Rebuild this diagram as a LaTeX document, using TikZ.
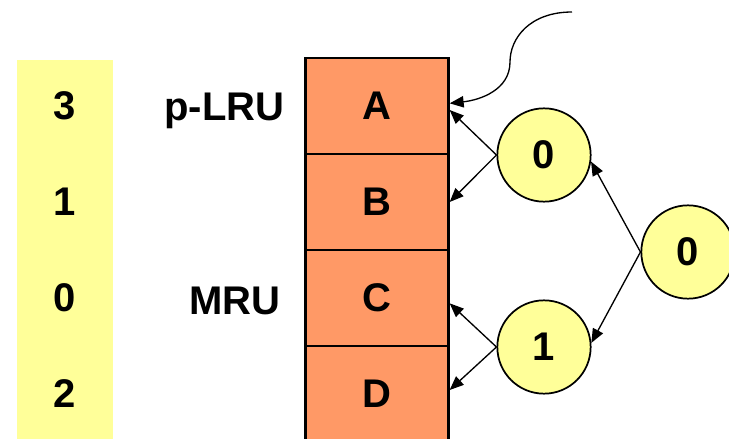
\documentclass[tikz,border=0pt]{standalone}
\usepackage{fontspec}
\setmainfont{Liberation Sans}
\usetikzlibrary{arrows.meta}

\definecolor{slotfill}{HTML}{FF9966}
\definecolor{bitfill}{HTML}{FFFF99}

\begin{document}
\begin{tikzpicture}
  [
    x = 0.75pt, y = -0.75pt,
    every node/.style = {font = \fontsize{30}{34}\selectfont\bfseries},
    slot/.style = {draw, line width = 2pt, fill = slotfill,
        minimum width = 107pt, minimum height = 72pt},
    bit/.style = {circle, draw, line width = 1.3pt, fill = bitfill,
        minimum size = 70pt},
    arr/.style = {-{Triangle[length = 10.5pt, width = 8.5pt]}, line width = 1pt},
  ]

  \useasboundingbox (0,0) rectangle (729,439);

  % ages column
  \fill[bitfill] (17,60) rectangle (113,439);

  % the four ways of the set, with their ages
  \foreach \name/\y/\age in {A/106/3, B/202/1, C/298/0, D/394/2}{
      \node[slot] (\name) at (377,\y) {\name};
      \node (age-\name) at (65,\y) {\age};
    }

  \node[anchor = base east] (plru) at (289,120) {p-LRU};
  \node[anchor = base east] (mru) at (285,314) {MRU};

  % tree bits
  \node[bit] (root) at (688,252) {0};
  \node[bit] (bit-0) at (544,155) {0};
  \node[bit] (bit-1) at (544,347) {1};

  \draw[arr] (root.west) -- (bit-0.-8);
  \draw[arr] (root.west) -- (bit-1.5);

  \draw[arr] (bit-0.west) -- ([yshift=-3pt]A.east);
  \draw[arr] (bit-0.west) -- (B.east);
  \draw[arr] (bit-1.west) -- ([yshift=-4pt]C.east);
  \draw[arr] (bit-1.west) -- ([yshift=3pt]D.east);

  % victim pointer
  \coordinate (victim) at (572,12);
  \draw[arr] (victim) .. controls (530,12) and (510,38) .. (510,62)
    .. controls (510,90) and (480,100) .. ([yshift=2pt]A.east);

\end{tikzpicture}
\end{document}
